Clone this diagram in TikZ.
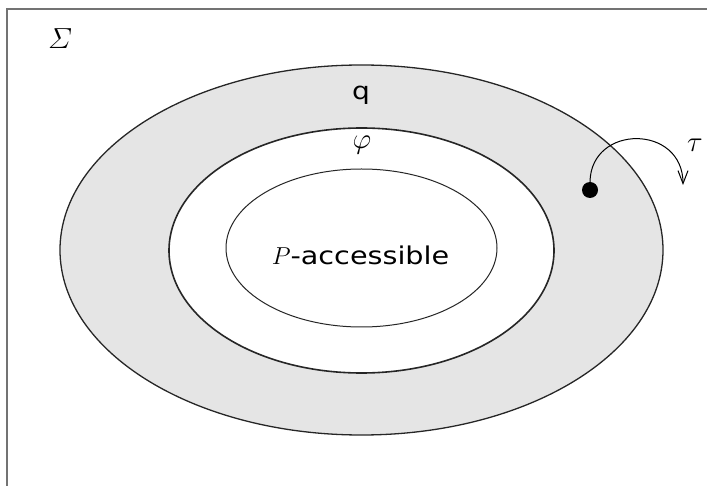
\RequirePackage{fix-cm}
\documentclass[tikz,border=0pt]{standalone}
\usepackage{amsmath}
\usepackage{fontspec}
\newfontfamily\refsans[FakeStretch=1.17]{DejaVu Sans}
\usetikzlibrary{shapes.geometric,arrows.meta}
\begin{document}
\begin{tikzpicture}[x=1pt,y=-1pt,
  ring/.style={ellipse, draw=black!85, inner sep=0pt},
  sans/.style={font=\refsans\fontsize{24}{28}\selectfont},
  mathlbl/.style={font=\fontsize{29}{33}\selectfont}]
\useasboundingbox (0,0) rectangle (707,486);
\coordinate (fa) at (7,486);
\coordinate (fb) at (7,9);
\coordinate (fc) at (707,9);
\draw[black!55, line width=2pt] (fa) -- (fb) -- (fc);
\node[ring, line width=1.3pt, fill=gray!20, minimum width=603, minimum height=370] (outer) at (361.5,250) {};
\node[ring, line width=1.6pt, fill=white, minimum width=385, minimum height=245] (middle) at (361.5,250.5) {};
\node[ring, line width=1pt, fill=white, minimum width=271, minimum height=158] (inner) at (361.5,248) {};
\node[sans] (q) at (361,95) {q};
\node[mathlbl] (phi) at (362,145) {$\varphi$};
\node[sans, font=\refsans\fontsize{24.5}{28}\selectfont] (pacc) at (360.5,255) {$P$-accessible};
\node[mathlbl] (sigma) at (60,39) {$\varSigma$};
\node[mathlbl] (tau) at (695,145) {$\tau$};
\node[circle, fill=black, minimum size=16, inner sep=0pt] (dot) at (590,190) {};
\coordinate (tauend) at (683,185);
\draw[-{Straight Barb[length=13pt,width=10pt]}, line width=1pt] (dot.north) .. controls (591,124) and (683,124) .. (tauend);
\end{tikzpicture}
\end{document}
